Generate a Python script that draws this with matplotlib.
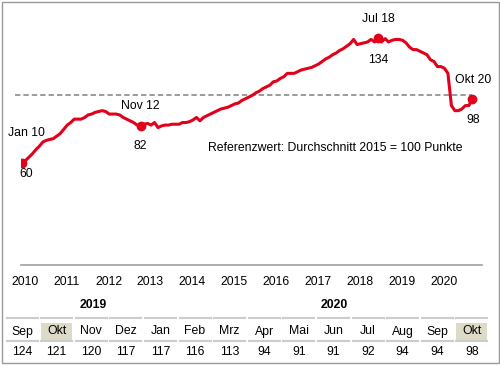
import numpy as np
import matplotlib.pyplot as plt
from matplotlib.patches import Rectangle

plt.rcParams['font.family'] = ['Liberation Sans', 'DejaVu Sans']

# Monatswerte Jan 2010 - Okt 2020 (Index, 2015 = 100)
v2010 = [60, 61.5, 63.5, 65.5, 68, 70, 72.5, 73.5, 74, 74.5, 76, 77.5]
v2011 = [80, 82.5, 84, 86, 86, 86, 87, 88.5, 89, 90, 90.5, 91]
v2012 = [90.5, 89, 89, 89, 88.5, 87, 86, 85, 84, 82.5, 82, 83]
v2013 = [83.5, 82.5, 84, 81, 82, 82.5, 82.5, 83, 83, 83, 84, 84]
v2014 = [84.5, 85.5, 87, 85, 87, 88, 89, 90, 91, 92, 92.5, 93]
v2015 = [94, 95, 95.5, 97, 98, 99, 100, 101.5, 102.5, 104, 105, 106]
v2016 = [108, 108.5, 110, 111, 113, 113, 113, 114, 115, 115.5, 116, 116.5]
v2017 = [117.5, 118.5, 120, 121.5, 122.5, 124, 125, 126.5, 127.5, 129, 130.5, 133]
v2018 = [130, 130.5, 131, 131.5, 133, 131.5, 134, 131.5, 133.5, 131.5, 132.5, 133]
v2019 = [133, 132.5, 131, 128.5, 127, 127, 126, 125, 124, 121, 120, 117]
v2020 = [117, 116, 113, 94, 91, 91, 92, 94, 94, 98]

values = v2010 + v2011 + v2012 + v2013 + v2014 + v2015 + v2016 + v2017 + v2018 + v2019 + v2020
years = list(range(2010, 2021))
ref_value = 100

# markierte Punkte: (Monatsindex, Label oben, Label unten)
marks = [(0, 'Jan 10', '60'), (34, 'Nov 12', '82'), (102, 'Jul 18', '134'), (129, 'Okt 20', '98')]
# Abstand der Beschriftung in Punkten (dx, oben, unten)
mark_offsets = [(3, 22, -7.5), (0, 14, -14.5), (0, 13.5, -16), (0.5, 13.5, -15)]

# Tabelle
tab_months = ['Sep', 'Okt', 'Nov', 'Dez', 'Jan', 'Feb', 'Mrz', 'Apr', 'Mai', 'Jun', 'Jul', 'Aug', 'Sep', 'Okt']
tab_values = [124, 121, 120, 117, 117, 116, 113, 94, 91, 91, 92, 94, 94, 98]
tab_highlight = [1, 13]

red = '#e2001a'
fs = 8.8
t = 2010 + np.arange(len(values)) / 12.0

fig = plt.figure(figsize=(5, 3.65), dpi=100)
ax = fig.add_axes([21 / 500, 100 / 365, 461 / 500, 260 / 365])
ax.set_xlim(2009.98, 2020.98)
ax.set_ylim(0, 153.3)

ax.hlines(ref_value, t[0] - 2 / 12, t[-1], colors='#808080', linestyles=(0, (3.5, 2)),
          linewidth=1.1, clip_on=False, zorder=1)
ax.plot(t, values, color=red, linewidth=2.2, solid_joinstyle='round', zorder=3)

for (i, top, bottom), (dx, up, down) in zip(marks, mark_offsets):
    ax.plot(t[i], values[i], 'o', color=red, markersize=6, zorder=4)
    ax.annotate(top, (t[i], values[i]), xytext=(dx, up), textcoords='offset points',
                ha='center', va='center', fontsize=fs)
    ax.annotate(bottom, (t[i], values[i]), xytext=(dx, down), textcoords='offset points',
                ha='center', va='center', fontsize=fs)

ax.text(2017.48, 69, 'Referenzwert: Durchschnitt 2015 = 100 Punkte', ha='center', va='center',
        fontsize=fs)

for s in ['top', 'right', 'left']:
    ax.spines[s].set_visible(False)
ax.spines['bottom'].set_color('#a0a0a0')
ax.spines['bottom'].set_linewidth(1.2)
ax.set_yticks([])
ax.set_xticks([y + 0.07 for y in years])
ax.set_xticklabels([str(y) for y in years], fontsize=fs)
ax.tick_params(axis='x', length=0, pad=8)

# Tabelle unten in Pixelkoordinaten
tab = fig.add_axes([0, 0, 1, 1])
tab.set_xlim(0, 500)
tab.set_ylim(365, 0)
tab.axis('off')

tab.text(93, 305, '2019', ha='center', va='center', fontsize=fs, fontweight='bold')
tab.text(334, 305, '2020', ha='center', va='center', fontsize=fs, fontweight='bold')

for i, (m, v) in enumerate(zip(tab_months, tab_values)):
    cx = 22 + i * 34.6
    if i in tab_highlight:
        tab.add_patch(Rectangle((cx - 15.5, 323), 31, 17.5, facecolor='#dedac8', edgecolor='none'))
    tab.plot([cx - 15.5, cx + 15.5], [318, 318], color='#cccccc', linewidth=1.5)
    tab.plot([cx - 15.5, cx + 15.5], [341, 341], color='#cccccc', linewidth=1.5)
    tab.text(cx, 331.5, m, ha='center', va='center', fontsize=fs)
    tab.text(cx, 352, str(v), ha='center', va='center', fontsize=fs)

tab.add_patch(Rectangle((1.5, 1.5), 497, 361, facecolor='none', edgecolor='#999999', linewidth=1))

fig.savefig('out.png', dpi=100)
